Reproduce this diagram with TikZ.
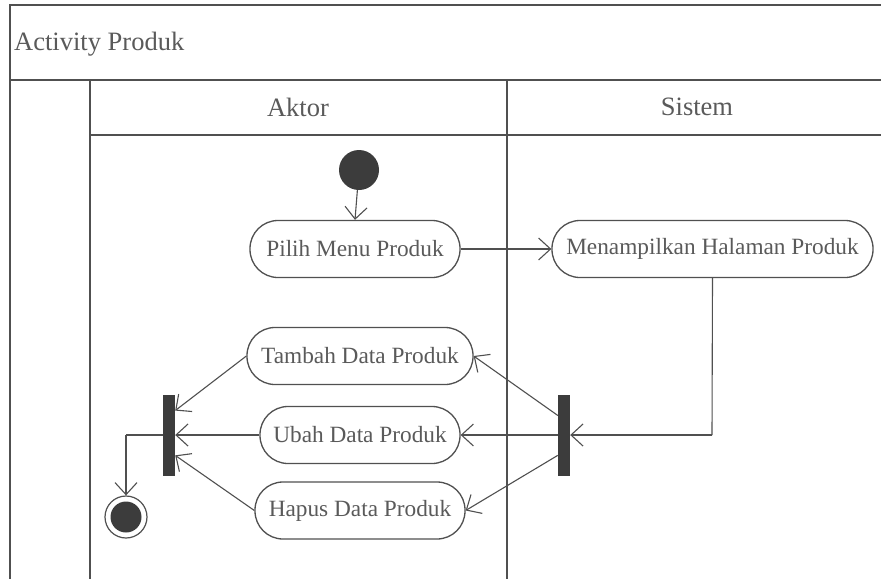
\documentclass[tikz,border=0pt]{standalone}
\usepackage{fontspec}
\setmainfont{Liberation Serif}
\usetikzlibrary{arrows.meta,calc}
\definecolor{ln}{HTML}{505050}
\definecolor{tx}{HTML}{5A5A5A}
\definecolor{bar}{HTML}{3C3C3C}
\begin{document}
\begin{tikzpicture}[x=1pt,y=-1pt,
  act/.style={draw=ln,line width=1.3pt,rounded corners=28pt,minimum height=57pt,inner sep=0pt,
     text=tx,font=\fontsize{23.3}{27}\selectfont},
  lane/.style={draw=ln,line width=1.6pt},
  flow/.style={draw=ln,line width=1.1pt,-{Straight Barb[length=12pt,width=22pt,line width=1.1pt]}},
  line/.style={draw=ln,line width=1.1pt},
  barnode/.style={fill=bar,draw=none,minimum width=12pt,minimum height=81pt,inner sep=0pt},
  hdr/.style={text=tx,font=\fontsize{26.5}{30}\selectfont}]
\useasboundingbox (0,0) rectangle (881,579);
\fill[white] (0,0) rectangle (881,579);
% frame and swimlanes
\draw[lane] (881,5) -- (10,5) -- (10,579);
\draw[draw=ln,line width=2.4pt] (10,80) -- (881,80);
\draw[lane] (90,80) -- (90,579);
\draw[lane] (90,135) -- (881,135);
\draw[lane] (507,80) -- (507,579);
\node[hdr,anchor=west,inner sep=0pt] (title) at (14,44) {Activity Produk};
\node[hdr] (aktor) at (298,107) {Aktor};
\node[hdr] (sistem) at (697,107) {Sistem};
% nodes
\node[circle,fill=bar,minimum size=40pt,inner sep=0pt] (init) at (359,170) {};
\node[act,minimum width=210pt] (pilih) at (355,249) {Pilih Menu Produk};
\node[act,minimum width=321pt] (menam) at (712.5,249) {Menampilkan Halaman Produk};
\node[act,minimum width=226pt] (tambah) at (360,356) {Tambah Data Produk};
\node[act,minimum width=200pt] (ubah) at (360,435) {Ubah Data Produk};
\node[act,minimum width=210pt] (hapus) at (360,510.5) {Hapus Data Produk};
\node[barnode] (fork) at (564,435) {};
\node[barnode] (join) at (169,435) {};
\node[circle,draw=ln,line width=1.2pt,minimum size=42pt,inner sep=0pt] (final) at (126,517) {};
\fill[bar] (final) circle (15.5pt);
\coordinate (c1) at (712,435);
\coordinate (c2) at (126,435);
% connectors
\draw[flow] (init) -- (pilih.north);
\draw[flow] (pilih.east) -- (menam.west);
\draw[line] (menam.south) -- (c1);
\draw[flow] (c1) -- (fork.east);
\draw[flow] ($(fork.north west)!0.26!(fork.south west)$) -- (tambah.east);
\draw[flow] (fork.west) -- (ubah.east);
\draw[flow] ($(fork.north west)!0.75!(fork.south west)$) -- (hapus.east);
\draw[flow] (tambah.west) -- ($(join.north east)!0.2!(join.south east)$);
\draw[flow] (ubah.west) -- (join.east);
\draw[flow] (hapus.west) -- ($(join.north east)!0.75!(join.south east)$);
\draw[line] (join.west) -- (c2);
\draw[flow] (c2) -- (final.north);
\end{tikzpicture}
\end{document}
